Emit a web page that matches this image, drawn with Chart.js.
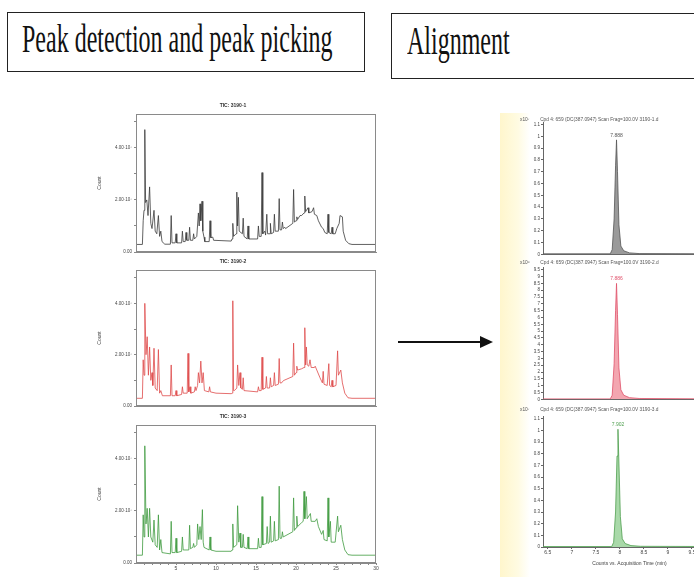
<!DOCTYPE html>
<html>
<head>
<meta charset="utf-8">
<script src="https://cdn.jsdelivr.net/npm/chart.js@4.4.1/dist/chart.umd.min.js"></script>
<style>
  html, body { margin: 0; padding: 0; background: #fff; }
  body { width: 694px; height: 577px; position: relative; overflow: hidden; }
  canvas { position: absolute; }
  .box { position: absolute; border: 1.5px solid #222; box-sizing: border-box; }
  .box span { position: absolute; font-family: "Liberation Serif", "Times New Roman", serif; font-size: 40px;
    line-height: 40px; color: #111; transform-origin: 0 0; transform: scaleX(0.6); white-space: nowrap; }
  #strip { position: absolute; left: 500px; top: 113px; width: 30px; height: 464px;
    background: linear-gradient(to right, #fff6cc, #fffbe2 60%, #ffffff); }
</style>
</head>
<body>
<div class="box" style="left:7px;top:12px;width:358px;height:60px;"><span style="left:14px;top:6px;">Peak detection and peak picking</span></div>
<div class="box" style="left:391px;top:13px;width:330px;height:66px;"><span style="left:15px;top:7px;">Alignment</span></div>
<div id="strip"></div>
<svg style="position:absolute;left:390px;top:330px;" width="110" height="24">
  <line x1="8" y1="12" x2="94" y2="12" stroke="#111" stroke-width="2"/>
  <polygon points="90,6 103,12 90,18" fill="#111"/>
</svg>

<canvas id="tic1" width="300" height="160" style="left:90px;top:100px;"></canvas>
<canvas id="tic2" width="300" height="158" style="left:90px;top:256px;"></canvas>
<canvas id="tic3" width="300" height="166" style="left:90px;top:411px;"></canvas>
<canvas id="eic1" width="196" height="144" style="left:520px;top:114px;"></canvas>
<canvas id="eic2" width="196" height="145" style="left:520px;top:258px;"></canvas>
<canvas id="eic3" width="196" height="163" style="left:520px;top:404px;"></canvas>

<script>
Chart.defaults.font.family = '"Liberation Sans", "DejaVu Sans", Arial, sans-serif';

// TIC chromatograms: [time (min), count (x10^7)]
const tic1 = [
  [0,0.29],[0.8,0.29],[0.9,1.2],[1.0,1.6],[1.1,4.7],[1.2,1.9],[1.35,2.0],[1.5,1.4],[1.7,2.5],[1.85,1.1],[2.0,0.9],
  [2.25,1.6],[2.4,0.8],[2.6,0.7],[2.8,1.4],[2.95,0.6],[3.1,0.8],[3.25,0.4],[3.6,0.3],[4.3,0.3],[4.4,1.4],[4.5,0.35],
  [4.9,0.35],[5.0,0.7],[5.1,0.35],[5.7,0.35],[5.8,0.8],[5.9,0.4],[6.15,0.4],[6.25,0.75],[6.35,0.45],[6.6,0.45],
  [6.7,0.95],[6.8,0.45],[7.1,0.45],[7.2,0.7],[7.3,0.5],[7.6,0.6],[7.8,1.5],[7.9,1.0],[8.0,1.85],[8.1,1.2],[8.25,1.95],
  [8.35,0.8],[8.5,0.57],[8.6,0.4],[9.15,0.4],[9.25,1.2],[9.35,0.55],[9.6,0.57],[9.7,0.45],[11.9,0.42],[12.0,0.5],
  [12.1,1.1],[12.2,0.6],[12.5,0.7],[12.6,2.3],[12.7,1.0],[12.8,2.1],[12.9,0.8],[13.3,0.7],[13.4,1.3],[13.5,0.6],
  [13.9,0.5],[14.0,1.0],[14.1,0.5],[15.2,0.5],[15.3,1.0],[15.4,0.6],[15.65,0.6],[15.75,3.05],[15.85,0.7],[16.1,0.8],
  [16.2,0.65],[16.35,1.45],[16.45,0.7],[16.75,0.7],[16.8,1.1],[16.9,0.7],[17.2,0.75],[17.3,1.45],[17.4,0.8],[17.8,0.8],
  [17.9,2.05],[18.0,0.85],[18.2,0.85],[18.3,1.15],[18.4,0.9],[18.6,0.95],[18.7,0.9],[19.6,1.1],[19.7,2.4],[19.8,1.15],
  [20.0,1.2],[20.1,1.35],[20.2,1.25],[20.5,1.4],[20.7,1.4],[21.0,1.5],[21.1,2.15],[21.2,1.55],[21.5,1.7],[21.6,1.5],
  [22.0,1.55],[22.2,1.7],[22.3,1.45],[22.6,1.4],[22.8,1.2],[23.2,0.95],[23.4,0.9],[23.6,0.75],[23.9,0.7],[24.0,1.45],
  [24.1,0.75],[24.4,0.7],[24.5,0.95],[24.6,0.7],[24.9,0.7],[25.1,0.9],[25.4,1.1],[25.5,1.4],[25.8,1.35],[25.9,0.8],
  [26.2,0.45],[26.6,0.32],[27,0.29],[30,0.29]
];
const tic2 = [
  [0,0.3],[0.8,0.3],[0.9,1.8],[1.0,1.2],[1.1,4.0],[1.25,2.0],[1.4,2.7],[1.55,1.2],[1.7,2.3],[1.85,1.0],[2.0,1.3],
  [2.1,0.8],[2.25,2.25],[2.4,0.7],[2.65,0.6],[2.8,2.2],[2.95,0.5],[3.1,0.6],[3.3,0.4],[4.3,0.4],[4.4,1.6],[4.5,0.4],
  [4.9,0.4],[5.0,0.6],[5.1,0.4],[5.7,0.45],[5.8,0.75],[5.9,0.5],[6.4,0.5],[6.5,2.05],[6.6,0.55],[6.75,0.75],[6.85,0.5],
  [7.3,0.55],[7.4,0.75],[7.5,0.6],[7.7,0.8],[7.8,1.3],[7.95,0.9],[8.1,1.75],[8.25,0.9],[8.4,1.3],[8.55,0.6],[9.1,0.55],
  [9.2,0.75],[9.3,0.55],[10,0.5],[11.9,0.48],[12.05,0.5],[12.1,4.1],[12.2,0.6],[12.3,0.6],[12.6,0.7],[12.7,1.6],
  [12.85,0.8],[13.0,1.3],[13.1,0.7],[13.3,0.65],[13.4,1.1],[13.5,0.6],[15.2,0.55],[15.3,0.75],[15.4,0.6],[15.65,0.6],
  [15.75,1.9],[15.85,0.65],[16.2,0.7],[16.3,1.15],[16.4,0.7],[16.7,0.7],[16.8,1.1],[16.9,0.75],[17.2,0.8],[17.3,1.3],
  [17.4,0.8],[17.8,0.85],[17.9,1.85],[18.0,0.9],[18.2,0.9],[18.3,0.95],[18.5,1.0],[19.6,1.15],[19.7,2.45],[19.8,1.2],
  [20.0,1.3],[20.1,1.55],[20.2,1.4],[20.7,1.45],[21.0,1.5],[21.1,3.05],[21.2,1.6],[21.3,2.3],[21.4,1.6],[21.6,1.55],
  [21.75,1.8],[21.9,1.5],[22.3,1.5],[22.4,1.55],[22.6,1.4],[23.0,1.1],[23.3,0.9],[23.4,1.35],[23.5,0.85],[23.9,0.8],
  [24.1,1.65],[24.2,0.8],[24.4,0.75],[24.5,1.0],[24.6,0.75],[25.0,0.8],[25.2,2.15],[25.3,1.2],[25.6,1.4],[25.8,0.9],
  [26.1,0.5],[26.5,0.32],[27,0.3],[30,0.3]
];
const tic3 = [
  [0,0.3],[0.8,0.3],[0.9,1.85],[1.0,1.0],[1.1,4.5],[1.25,1.5],[1.4,2.1],[1.55,1.0],[1.7,2.1],[1.85,1.0],[2.1,0.8],
  [2.25,1.65],[2.4,0.7],[2.65,0.6],[2.8,1.85],[2.95,0.5],[3.1,0.9],[3.25,0.4],[4.3,0.35],[4.4,1.6],[4.5,0.4],[4.9,0.4],
  [5.0,0.95],[5.1,0.4],[5.7,0.45],[5.8,1.0],[5.9,0.5],[6.6,0.5],[6.7,1.45],[6.8,0.55],[7.1,0.6],[7.2,0.75],[7.3,0.6],
  [7.6,0.7],[7.7,1.5],[7.85,0.9],[8.0,1.4],[8.15,0.9],[8.3,2.05],[8.4,0.8],[8.5,0.6],[9.15,0.5],[9.25,1.0],[9.35,0.5],
  [10,0.45],[11.9,0.45],[12.0,0.5],[12.1,1.5],[12.2,0.6],[12.6,0.7],[12.7,2.2],[12.85,0.8],[13.0,1.15],[13.1,0.6],
  [13.3,0.6],[13.4,1.1],[13.5,0.6],[13.9,0.55],[14.0,1.0],[14.1,0.55],[15.2,0.55],[15.3,0.95],[15.4,0.6],[15.65,0.6],
  [15.75,2.55],[15.85,0.7],[16.3,0.75],[16.4,1.4],[16.5,0.75],[16.7,0.8],[16.8,1.8],[16.9,0.8],[17.2,0.85],[17.3,1.6],
  [17.4,0.85],[17.8,0.9],[17.9,2.95],[18.0,0.95],[18.2,0.95],[18.3,1.2],[18.4,1.0],[19.6,1.2],[19.7,2.5],[19.8,1.25],
  [20.0,1.35],[20.1,1.8],[20.2,1.4],[20.7,1.55],[20.9,1.6],[21.0,2.75],[21.1,1.7],[21.3,2.55],[21.4,1.7],[21.8,1.9],
  [21.9,1.6],[22.4,1.6],[22.6,1.7],[22.8,1.4],[23.2,1.1],[23.4,1.25],[23.5,0.9],[23.9,0.85],[24.0,2.5],[24.1,1.0],
  [24.3,1.6],[24.4,0.8],[24.9,0.8],[25.2,1.8],[25.3,1.2],[25.6,1.45],[25.8,0.9],[26.1,0.5],[26.5,0.32],[27,0.3],[30,0.3]
];
const ticTitles = ['TIC: 3190-1', 'TIC: 3190-2', 'TIC: 3190-3'];
const ticTimeTicks = [1,2,3,4,5,6,7,8,9,10,11,12,13,14,15,16,17,18,19,20,21,22,23,24,25,26,27,28,29,30];
const ticCountTicks = [0,1,2,3,4,5];
const ticCountLabels = {0: '0.00', 2: '2.00·10⁷', 4: '4.00·10⁷'};

// extracted compound chromatograms: [time (min), counts]
const eic1 = [[6.4,0.004],[7.8,0.004],[7.84,0.04],[7.88,0.3],[7.91,0.75],[7.93,0.97],[7.95,0.7],[7.98,0.25],[8.02,0.07],[8.08,0.03],[8.2,0.012],[8.4,0.006],[10,0.004]];
const eic2 = [[6.4,0.03],[7.8,0.03],[7.84,0.3],[7.88,2.6],[7.91,6.5],[7.93,8.5],[7.95,6.2],[7.98,2.3],[8.02,0.7],[8.08,0.3],[8.2,0.12],[8.4,0.06],[10,0.03]];
const eic3 = [[6.4,0.004],[7.83,0.004],[7.87,0.04],[7.91,0.3],[7.94,0.78],[7.96,1.01],[7.98,0.72],[8.01,0.26],[8.05,0.07],[8.11,0.03],[8.23,0.012],[8.43,0.006],[10,0.004]];
const eicHeaders = [
  'x10⁷        Cpd 4: 659 (DC(387.0947) Scan Frag=100.0V 3190-1.d',
  'x10⁶        Cpd 4: 659 (DC(387.0947) Scan Frag=100.0V 3190-2.d',
  'x10⁷        Cpd 4: 659 (DC(387.0947) Scan Frag=100.0V 3190-3.d'
];
const eicPeakLabels = ['7.888', '7.886', '7.902'];
const eicTimeTicks = [6.5, 7, 7.5, 8, 8.5, 9, 9.5];
const eicCountTicks1 = [0,0.1,0.2,0.3,0.4,0.5,0.6,0.7,0.8,0.9,1,1.1];
const eicCountTicks2 = [0,0.5,1,1.5,2,2.5,3,3.5,4,4.5,5,5.5,6,6.5,7,7.5,8,8.5,9,9.5];

const framePlugin = {
  id: 'frame',
  afterDraw(chart) {
    const a = chart.chartArea, ctx = chart.ctx;
    ctx.save();
    ctx.strokeStyle = '#8a8a8a';
    ctx.lineWidth = 1;
    ctx.strokeRect(a.left + 0.5, a.top + 0.5, a.right - a.left - 1, a.bottom - a.top - 1);
    ctx.restore();
  }
};

const peakLabelPlugin = {
  id: 'peakLabel',
  afterDatasetsDraw(chart, args, opts) {
    if (!opts.text) return;
    const meta = chart.getDatasetMeta(0);
    const data = chart.data.datasets[0].data;
    let best = 0;
    data.forEach((p, i) => { if (p.y > data[best].y) best = i; });
    const pt = meta.data[best];
    const ctx = chart.ctx;
    ctx.save();
    ctx.font = '5px "Liberation Sans", Arial';
    ctx.fillStyle = opts.color;
    ctx.textAlign = 'center';
    ctx.textBaseline = 'bottom';
    ctx.fillText(opts.text, pt.x, pt.y - 2);
    ctx.restore();
  }
};

function ticChart(id, pts, title, color, xAxisHeight, showTimeLabels) {
  new Chart(document.getElementById(id), {
    type: 'line',
    data: { datasets: [{ data: pts.map(([x, y]) => ({ x, y })), borderColor: color, borderWidth: 0.8,
      pointRadius: 0, tension: 0, fill: false }] },
    options: {
      responsive: false, animation: false, events: [],
      layout: { padding: { left: 0, right: 14, top: 0, bottom: 0 } },
      plugins: {
        legend: { display: false }, tooltip: { enabled: false },
        title: { display: true, text: title, color: '#333', font: { size: 5, weight: 'bold' }, padding: { top: 3, bottom: 5 } }
      },
      scales: {
        x: {
          type: 'linear', min: 0, max: 30,
          afterBuildTicks: s => { s.ticks = ticTimeTicks.map(v => ({ value: v })); },
          afterFit: s => { s.height = xAxisHeight; },
          ticks: { display: showTimeLabels, autoSkip: false, maxRotation: 0, padding: 1, color: '#444', font: { size: 5 },
            callback: v => (v % 5 === 0 ? String(v) : '') },
          grid: { display: showTimeLabels, drawOnChartArea: false, tickLength: 2, color: '#888' },
          border: { color: '#8a8a8a' }
        },
        y: {
          min: 0, max: 5.3,
          afterBuildTicks: s => { s.ticks = ticCountTicks.map(v => ({ value: v })); },
          afterFit: s => { s.width = 46; },
          ticks: { autoSkip: false, padding: 2, color: '#444', font: { size: 4.5 },
            callback: v => ticCountLabels[v] || '' },
          grid: { drawOnChartArea: false, tickLength: 2, color: '#888' },
          border: { color: '#8a8a8a' },
          title: { display: true, text: 'Count', color: '#444', font: { size: 5 }, padding: { top: 7, bottom: 0 } }
        }
      }
    },
    plugins: [framePlugin]
  });
}

function eicChart(id, pts, header, label, line, fillColor, yMax, countTicks, titlePad, xAxisHeight, showTime) {
  new Chart(document.getElementById(id), {
    type: 'line',
    data: { datasets: [{ data: pts.map(([x, y]) => ({ x, y })), borderColor: line, backgroundColor: fillColor,
      borderWidth: 0.8, pointRadius: 0, tension: 0, fill: 'origin' }] },
    options: {
      responsive: false, animation: false, events: [],
      layout: { padding: 0 },
      plugins: {
        legend: { display: false }, tooltip: { enabled: false },
        title: { display: true, text: header, align: 'start', color: '#555', font: { size: 4.8, weight: 'normal' }, padding: titlePad },
        peakLabel: { text: label, color: line }
      },
      scales: {
        x: {
          type: 'linear', min: 6.4, max: 10,
          afterBuildTicks: s => { s.ticks = eicTimeTicks.map(v => ({ value: v })); },
          afterFit: s => { s.height = xAxisHeight; },
          ticks: { display: showTime, autoSkip: false, maxRotation: 0, padding: 1, color: '#444', font: { size: 5 },
            callback: v => String(v) },
          grid: { display: showTime, drawOnChartArea: false, tickLength: 2, color: '#666' },
          border: { color: '#666' },
          title: { display: showTime, text: 'Counts vs. Acquisition Time (min)', color: '#444', font: { size: 5 }, padding: { top: 1, bottom: 0 } }
        },
        y: {
          min: 0, max: yMax,
          afterBuildTicks: s => { s.ticks = countTicks.map(v => ({ value: v })); },
          afterFit: s => { s.width = 23; },
          ticks: { autoSkip: false, padding: 1, color: '#444', font: { size: 4.5 }, callback: v => String(v) },
          grid: { drawOnChartArea: false, tickLength: 2, color: '#666' },
          border: { color: '#666' }
        }
      }
    },
    plugins: [peakLabelPlugin]
  });
}

ticChart('tic1', tic1, ticTitles[0], '#3a3a3a', 8, false);
ticChart('tic2', tic2, ticTitles[1], '#de4a4a', 8, false);
ticChart('tic3', tic3, ticTitles[2], '#3f9b3f', 14, true);

eicChart('eic1', eic1, eicHeaders[0], eicPeakLabels[0], '#555555', '#9a9a9a', 1.115, eicCountTicks1, { top: 3, bottom: 0 }, 2, false);
eicChart('eic2', eic2, eicHeaders[1], eicPeakLabels[1], '#e0506a', '#f3a6b0', 9.645, eicCountTicks2, { top: 2, bottom: 2 }, 2, false);
eicChart('eic3', eic3, eicHeaders[2], eicPeakLabels[2], '#4f9f4f', '#a9d9a9', 1.117, eicCountTicks1, { top: 3, bottom: 4 }, 20, true);
</script>
</body>
</html>
